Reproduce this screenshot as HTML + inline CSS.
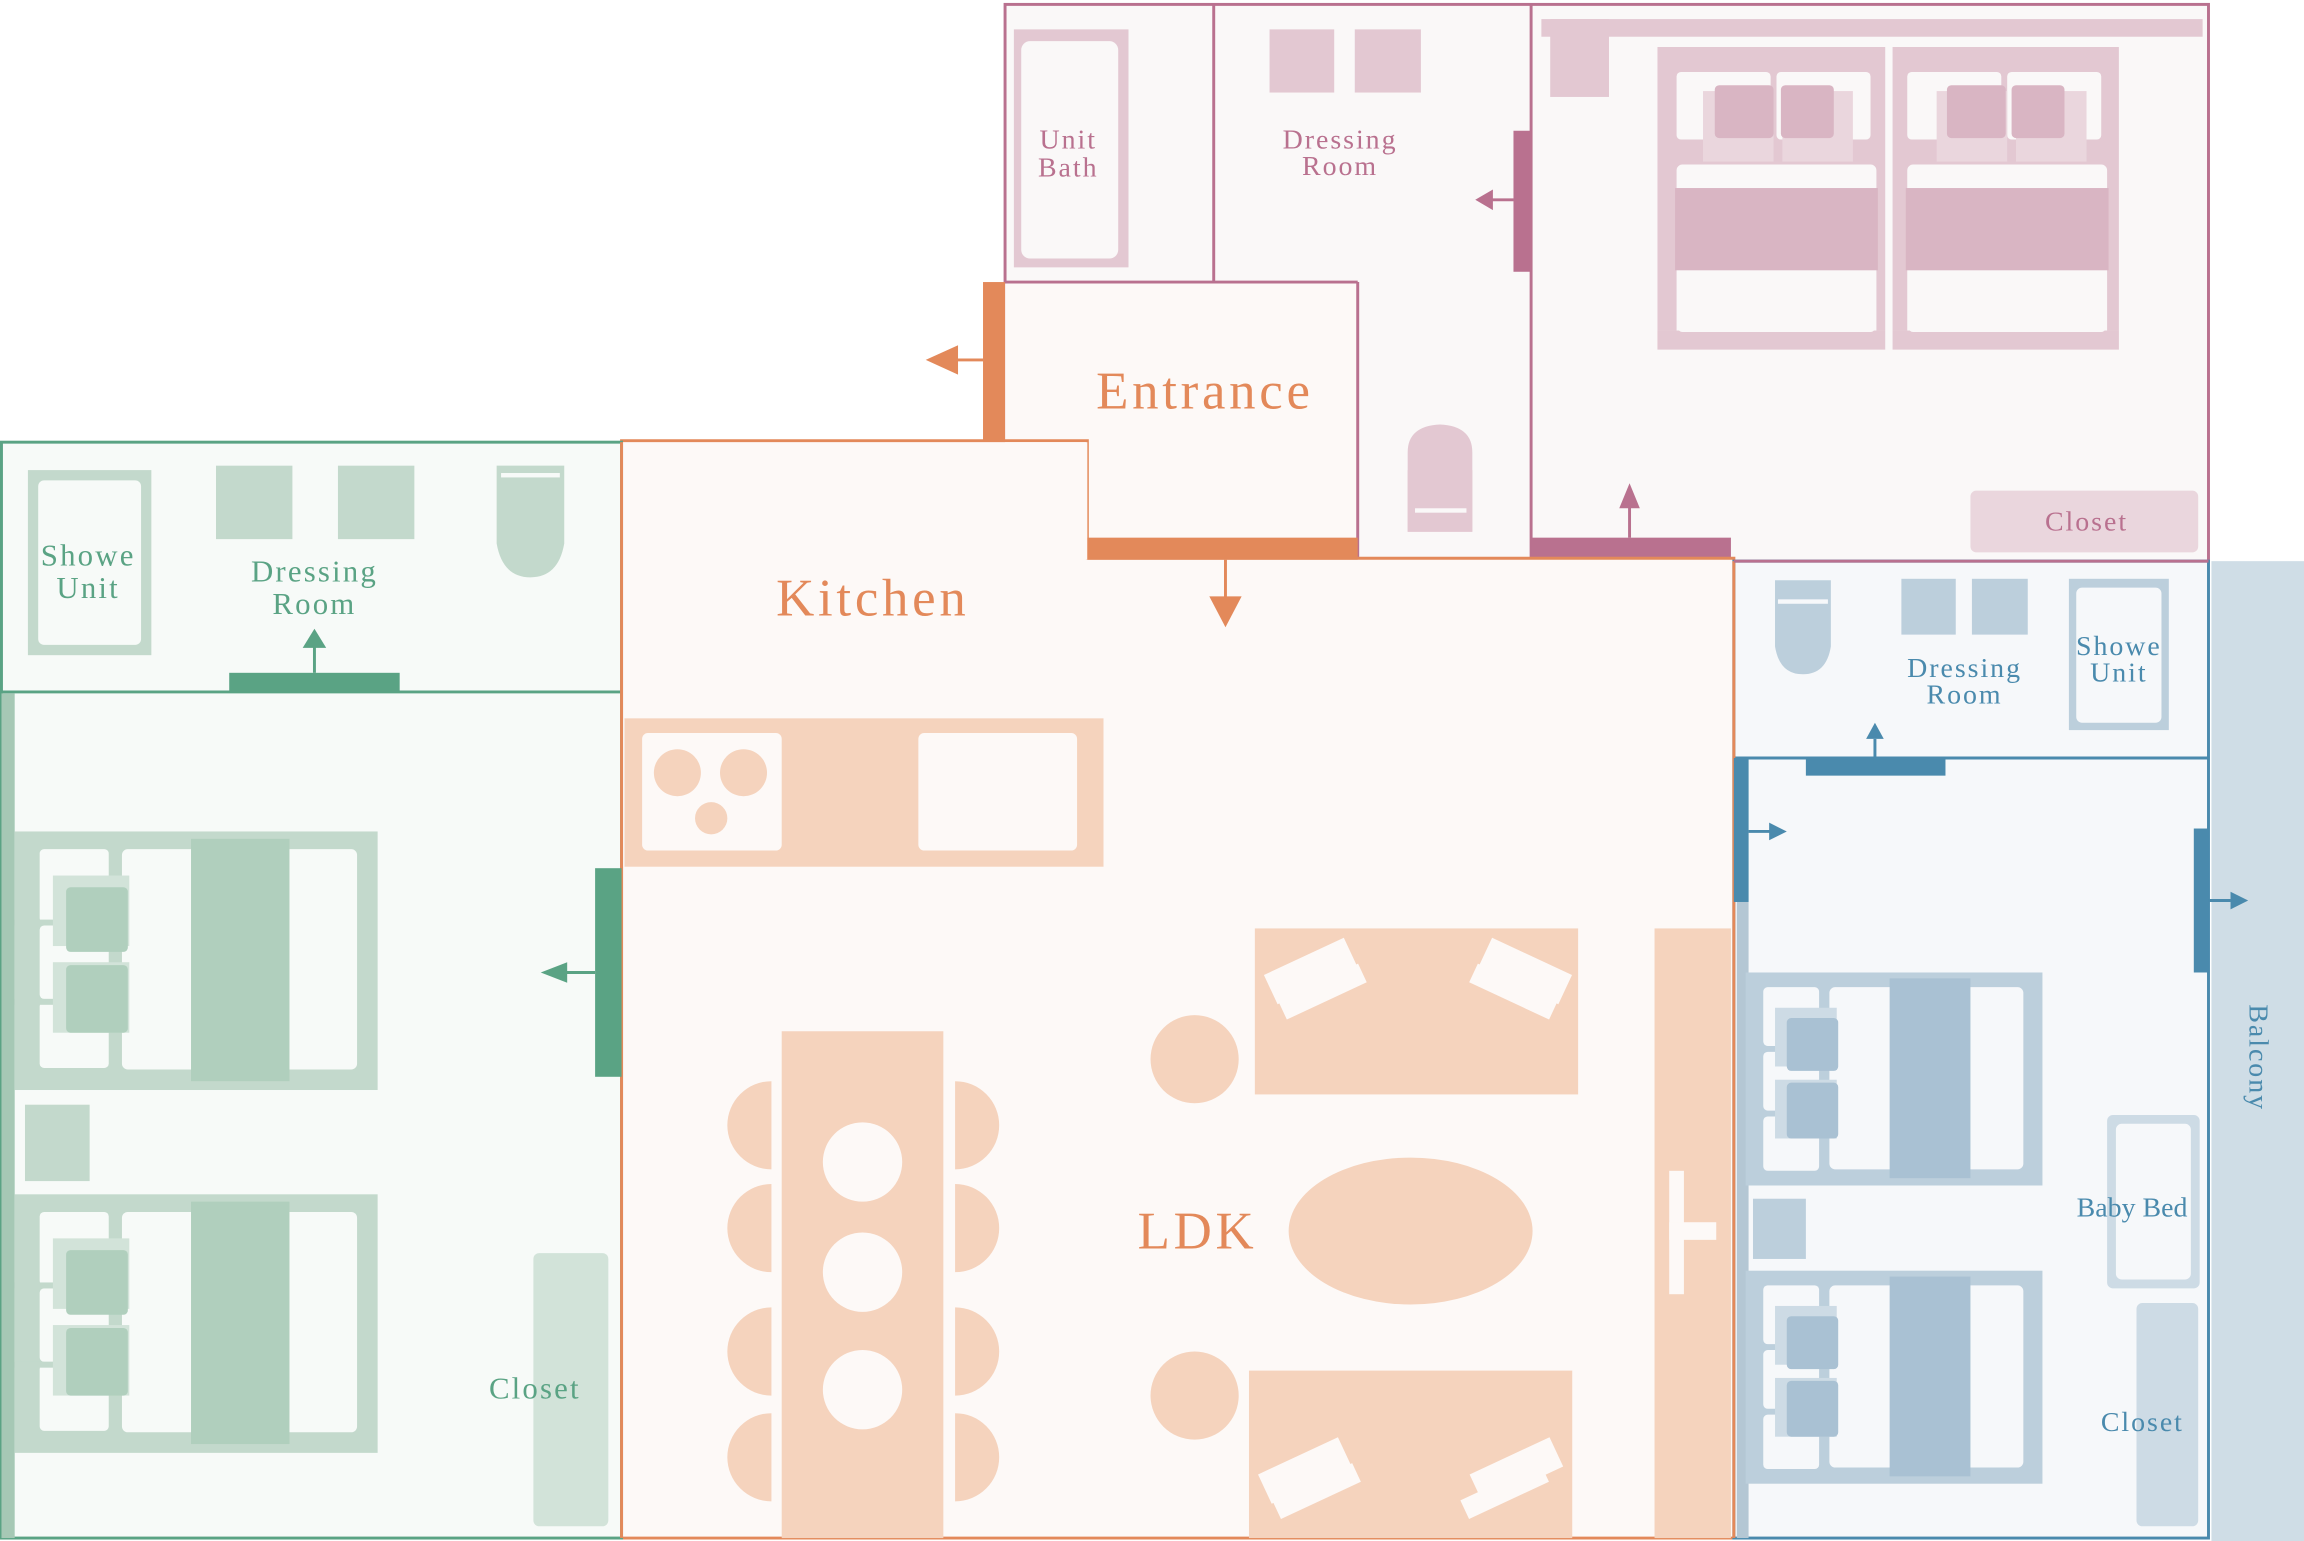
<!DOCTYPE html>
<html><head><meta charset="utf-8"><style>
html,body{margin:0;padding:0;background:#fff;}
svg{display:block;}
text{font-family:"Liberation Serif",serif;letter-spacing:0.07em;}
</style></head><body>
<svg width="2304" height="1541" viewBox="0 0 1568 1049" preserveAspectRatio="none" xmlns="http://www.w3.org/2000/svg">
<!-- PINK -->
<rect x="684" y="3" width="819" height="379" fill="#faf8f8" stroke="#b9718f" stroke-width="2"/>
<line x1="826" y1="3" x2="826" y2="192" stroke="#b9718f" stroke-width="2"/>
<line x1="684" y1="192" x2="924" y2="192" stroke="#b9718f" stroke-width="2"/>
<line x1="1042" y1="3" x2="1042" y2="382" stroke="#b9718f" stroke-width="2"/>
<rect x="690" y="20" width="78" height="162" fill="#e3c8d2"/>
<rect x="695" y="28" width="66" height="148" rx="6" fill="#faf8f8"/>
<text x="727" y="101" font-size="19" fill="#b9718f" text-anchor="middle">Unit</text>
<text x="727" y="120" font-size="19" fill="#b9718f" text-anchor="middle">Bath</text>
<rect x="864" y="20" width="44" height="43" fill="#e3c8d2"/>
<rect x="922" y="20" width="45" height="43" fill="#e3c8d2"/>
<text x="912" y="101" font-size="19" fill="#b9718f" text-anchor="middle">Dressing</text>
<text x="912" y="119" font-size="19" fill="#b9718f" text-anchor="middle">Room</text>
<rect x="1030" y="89" width="12" height="96" fill="#b9718f"/>
<line x1="1015" y1="136" x2="1030" y2="136" stroke="#b9718f" stroke-width="2"/>
<polygon points="1004,136 1016,129 1016,143" fill="#b9718f"/>
<path d="M958,380 L958,308 Q958,290 980,289 Q1002,290 1002,308 L1002,362 L958,362Z" fill="#e3c8d2"/>
<rect x="958" y="320" width="44" height="42" fill="#e3c8d2"/>
<rect x="963" y="346" width="35" height="3" fill="#faf8f8"/>
<rect x="1049" y="13" width="450" height="12" fill="#e3c8d2"/>
<rect x="1055" y="13" width="40" height="53" fill="#e3c8d2"/>
<rect x="1128" y="32" width="155" height="206" fill="#e3c8d2"/>
<rect x="1288" y="32" width="154" height="206" fill="#e3c8d2"/>
<g fill="#faf8f8">
<rect x="1141" y="49" width="64" height="46" rx="3"/><rect x="1209" y="49" width="64" height="46" rx="3"/>
<rect x="1298" y="49" width="64" height="46" rx="3"/><rect x="1366" y="49" width="64" height="46" rx="3"/>
<rect x="1141" y="112" width="136" height="176" rx="4"/><rect x="1298" y="112" width="136" height="176" rx="4"/>
</g>
<rect x="1128" y="225" width="314" height="20" fill="#faf8f8"/>
<g fill="#ead6dd"><rect x="1159" y="62" width="48" height="48"/><rect x="1213" y="62" width="48" height="48"/><rect x="1318" y="62" width="48" height="48"/><rect x="1372" y="62" width="48" height="48"/></g>
<g fill="#d9b5c3"><rect x="1167" y="58" width="40" height="36" rx="3"/><rect x="1212" y="58" width="36" height="36" rx="3"/><rect x="1325" y="58" width="40" height="36" rx="3"/><rect x="1369" y="58" width="36" height="36" rx="3"/></g>
<rect x="1140" y="128" width="138" height="56" fill="#d9b5c3"/>
<rect x="1297" y="128" width="138" height="56" fill="#d9b5c3"/>
<rect x="1128" y="225" width="155" height="13" fill="#e3c8d2"/><rect x="1288" y="225" width="154" height="13" fill="#e3c8d2"/>
<rect x="1142" y="210" width="134" height="16" rx="3" fill="#faf8f8"/><rect x="1299" y="210" width="134" height="16" rx="3" fill="#faf8f8"/>
<rect x="1341" y="334" width="155" height="42" rx="4" fill="#ead6dd"/>
<text x="1420" y="361" font-size="19" fill="#b9718f" text-anchor="middle">Closet</text>
<rect x="1042" y="366" width="136" height="16" fill="#b9718f"/>
<line x1="1109" y1="366" x2="1109" y2="344" stroke="#b9718f" stroke-width="2"/>
<polygon points="1109,329 1102,346 1116,346" fill="#b9718f"/>
<!-- ENTRANCE -->
<rect x="684" y="193" width="240" height="173" fill="#fdf9f7"/>
<line x1="924" y1="192" x2="924" y2="381" stroke="#b9718f" stroke-width="2"/>
<rect x="669" y="192" width="15" height="108" fill="#e3895a"/>
<line x1="669" y1="245" x2="648" y2="245" stroke="#e3895a" stroke-width="2"/>
<polygon points="630,245 652,235 652,255" fill="#e3895a"/>
<text x="820" y="278" font-size="36" fill="#e3895a" text-anchor="middle">Entrance</text>
<!-- LDK -->
<path d="M423,300 L740,300 L740,380 L1180,380 L1180,1047 L423,1047Z" fill="#fdf9f7" stroke="#e3895a" stroke-width="2"/>
<rect x="684" y="301" width="56" height="80" fill="#fdf9f7"/>
<rect x="740" y="366" width="184" height="15" fill="#e3895a"/>
<line x1="834" y1="381" x2="834" y2="408" stroke="#e3895a" stroke-width="2"/>
<polygon points="834,427 823,406 845,406" fill="#e3895a"/>
<text x="594" y="419" font-size="36" fill="#e3895a" text-anchor="middle">Kitchen</text>
<rect x="425" y="489" width="326" height="101" fill="#f5d3bd"/>
<rect x="437" y="499" width="95" height="80" rx="4" fill="#fdf9f7"/>
<rect x="625" y="499" width="108" height="80" rx="4" fill="#fdf9f7"/>
<g fill="#f5d3bd"><circle cx="461" cy="526" r="16"/><circle cx="506" cy="526" r="16"/><circle cx="484" cy="557" r="11"/></g>
<g fill="#f5d3bd">
<rect x="532" y="702" width="110" height="345"/>
<path d="M525,736 a30,30 0 0 0 0,60Z"/><path d="M525,806 a30,30 0 0 0 0,60Z"/><path d="M525,890 a30,30 0 0 0 0,60Z"/><path d="M525,962 a30,30 0 0 0 0,60Z"/>
<path d="M650,736 a30,30 0 0 1 0,60Z"/><path d="M650,806 a30,30 0 0 1 0,60Z"/><path d="M650,890 a30,30 0 0 1 0,60Z"/><path d="M650,962 a30,30 0 0 1 0,60Z"/>
</g>
<g fill="#fdf9f7"><circle cx="587" cy="791" r="27"/><circle cx="587" cy="866" r="27"/><circle cx="587" cy="946" r="27"/></g>
<g fill="#f5d3bd"><circle cx="813" cy="721" r="30"/><circle cx="813" cy="950" r="30"/>
<rect x="854" y="632" width="220" height="113"/><rect x="850" y="933" width="220" height="114"/>
<ellipse cx="960" cy="838" rx="83" ry="50"/>
<rect x="1126" y="632" width="52" height="415"/></g>
<rect x="1136" y="797" width="10" height="84" fill="#fdf9f7"/><rect x="1136" y="832" width="32" height="12" fill="#fdf9f7"/>
<g fill="#fdf9f7">
<rect x="862" y="650" width="60" height="22" transform="rotate(-25 892 661)"/><rect x="870" y="668" width="60" height="14" transform="rotate(-25 900 675)"/>
<rect x="1008" y="650" width="60" height="22" transform="rotate(25 1038 661)"/><rect x="1000" y="668" width="60" height="14" transform="rotate(25 1030 675)"/>
<rect x="858" y="990" width="60" height="22" transform="rotate(-25 888 1001)"/><rect x="866" y="1008" width="60" height="14" transform="rotate(-25 896 1015)"/>
<rect x="1002" y="990" width="60" height="22" transform="rotate(-25 1032 1001)"/><rect x="994" y="1008" width="60" height="14" transform="rotate(-25 1024 1015)"/>
</g>
<text x="815" y="850" font-size="36" fill="#e3895a" text-anchor="middle">LDK</text>
<!-- GREEN -->
<rect x="1" y="301" width="422" height="746" fill="#f7faf8" stroke="#5aa384" stroke-width="2"/>
<line x1="1" y1="471" x2="423" y2="471" stroke="#5aa384" stroke-width="2"/>
<line x1="423" y1="301" x2="423" y2="1047" stroke="#e3895a" stroke-width="2"/>
<rect x="1" y="472" width="9" height="575" fill="#a6c8b5"/>
<rect x="19" y="320" width="84" height="126" fill="#c3d9cc"/>
<rect x="26" y="327" width="70" height="112" rx="4" fill="#f7faf8"/>
<text x="60" y="385" font-size="21" fill="#5aa384" text-anchor="middle">Showe</text>
<text x="60" y="407" font-size="21" fill="#5aa384" text-anchor="middle">Unit</text>
<rect x="147" y="317" width="52" height="50" fill="#c3d9cc"/><rect x="230" y="317" width="52" height="50" fill="#c3d9cc"/>
<path d="M338,317 L384,317 L384,370 Q380,393 361,393 Q342,393 338,370Z" fill="#c3d9cc"/>
<rect x="341" y="322" width="40" height="3" fill="#f7faf8"/>
<text x="214" y="396" font-size="21" fill="#5aa384" text-anchor="middle">Dressing</text>
<text x="214" y="418" font-size="21" fill="#5aa384" text-anchor="middle">Room</text>
<rect x="156" y="458" width="116" height="13" fill="#5aa384"/>
<line x1="214" y1="458" x2="214" y2="440" stroke="#5aa384" stroke-width="2"/>
<polygon points="214,428 206,441 222,441" fill="#5aa384"/>
<rect x="405" y="591" width="18" height="142" fill="#5aa384"/>
<line x1="405" y1="662" x2="385" y2="662" stroke="#5aa384" stroke-width="2"/>
<polygon points="368,662 386,655 386,669" fill="#5aa384"/>
<g id="gbed">
<rect x="10" y="566" width="247" height="176" fill="#c3d9cc"/>
<g fill="#f7faf8"><rect x="27" y="578" width="47" height="50" rx="3"/><rect x="27" y="630" width="47" height="50" rx="3"/><rect x="27" y="682" width="47" height="45" rx="3"/>
<rect x="83" y="578" width="160" height="150" rx="4"/></g>
<rect x="10" y="626" width="70" height="4" fill="#c3d9cc"/><rect x="10" y="680" width="70" height="4" fill="#c3d9cc"/>
<rect x="36" y="596" width="52" height="48" fill="#d2e3d9"/><rect x="36" y="655" width="52" height="48" fill="#d2e3d9"/>
<rect x="45" y="604" width="42" height="44" rx="3" fill="#b0cfbd"/><rect x="45" y="657" width="42" height="46" rx="3" fill="#b0cfbd"/>
<rect x="130" y="571" width="67" height="165" fill="#b0cfbd"/>
</g>
<use href="#gbed" transform="translate(0 247)"/>
<rect x="17" y="752" width="44" height="52" fill="#c3d9cc"/>
<rect x="363" y="853" width="51" height="186" rx="4" fill="#d2e3d9"/>
<text x="364" y="952" font-size="21" fill="#5aa384" text-anchor="middle">Closet</text>
<!-- BLUE -->
<rect x="1505" y="382" width="63" height="667" fill="#cfdde6"/>
<rect x="1180" y="382" width="323" height="665" fill="#f6f8fa" stroke="#4a8aad" stroke-width="2"/>
<line x1="1180" y1="516" x2="1503" y2="516" stroke="#4a8aad" stroke-width="2"/>
<line x1="1180" y1="382" x2="1180" y2="1047" stroke="#e3895a" stroke-width="2"/>
<line x1="1180" y1="382" x2="1503" y2="382" stroke="#b9718f" stroke-width="2"/>
<rect x="1182" y="517" width="8" height="530" fill="#b4c7d4"/>
<rect x="1180" y="516" width="10" height="98" fill="#4a8aad"/>
<line x1="1190" y1="566" x2="1206" y2="566" stroke="#4a8aad" stroke-width="2"/>
<polygon points="1216,566 1204,560 1204,572" fill="#4a8aad"/>
<path d="M1208,395 L1246,395 L1246,440 Q1243,459 1227,459 Q1211,459 1208,440Z" fill="#bccfdc"/>
<rect x="1210" y="408" width="34" height="3" fill="#f6f8fa"/>
<rect x="1294" y="394" width="37" height="38" fill="#bccfdc"/><rect x="1342" y="394" width="38" height="38" fill="#bccfdc"/>
<rect x="1408" y="394" width="68" height="103" fill="#bccfdc"/>
<rect x="1413" y="400" width="58" height="92" rx="4" fill="#f6f8fa"/>
<text x="1442" y="446" font-size="19" fill="#4a8aad" text-anchor="middle">Showe</text>
<text x="1442" y="464" font-size="19" fill="#4a8aad" text-anchor="middle">Unit</text>
<text x="1337" y="461" font-size="19" fill="#4a8aad" text-anchor="middle">Dressing</text>
<text x="1337" y="479" font-size="19" fill="#4a8aad" text-anchor="middle">Room</text>
<rect x="1229" y="517" width="95" height="11" fill="#4a8aad"/>
<line x1="1276" y1="517" x2="1276" y2="503" stroke="#4a8aad" stroke-width="2"/>
<polygon points="1276,492 1270,503 1282,503" fill="#4a8aad"/>
<rect x="1493" y="564" width="10" height="98" fill="#4a8aad"/>
<line x1="1503" y1="613" x2="1518" y2="613" stroke="#4a8aad" stroke-width="2"/>
<polygon points="1530,613 1518,607 1518,619" fill="#4a8aad"/>
<g id="bbed">
<rect x="1188" y="662" width="202" height="145" fill="#bccfdc"/>
<g fill="#f6f8fa"><rect x="1200" y="672" width="38" height="40" rx="3"/><rect x="1200" y="716" width="38" height="40" rx="3"/><rect x="1200" y="760" width="38" height="37" rx="3"/>
<rect x="1245" y="672" width="132" height="124" rx="4"/></g>
<rect x="1208" y="686" width="42" height="40" fill="#cddbe5"/><rect x="1208" y="735" width="42" height="40" fill="#cddbe5"/>
<rect x="1216" y="693" width="35" height="36" rx="3" fill="#a9c1d3"/><rect x="1216" y="737" width="35" height="38" rx="3" fill="#a9c1d3"/>
<rect x="1286" y="666" width="55" height="136" fill="#a9c1d3"/>
</g>
<use href="#bbed" transform="translate(0 203)"/>
<rect x="1193" y="816" width="36" height="41" fill="#bccfdc"/>
<rect x="1434" y="759" width="63" height="118" rx="4" fill="#cddbe5"/>
<rect x="1440" y="765" width="51" height="106" rx="4" fill="#f6f8fa"/>
<text x="1451" y="828" font-size="19" fill="#4a8aad" text-anchor="middle" style="letter-spacing:0">Baby Bed</text>
<rect x="1454" y="887" width="42" height="152" rx="4" fill="#cddbe5"/>
<text x="1458" y="974" font-size="19" fill="#4a8aad" text-anchor="middle">Closet</text>
<text x="0" y="0" font-size="19" fill="#4a8aad" text-anchor="middle" transform="translate(1531 720) rotate(90)">Balcony</text>
</svg>
</body></html>
